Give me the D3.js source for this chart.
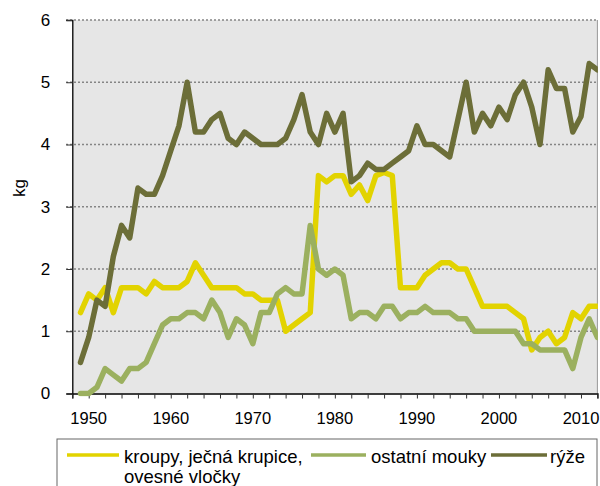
<!DOCTYPE html>
<html>
<head>
<meta charset="utf-8">
<script src="https://cdn.jsdelivr.net/npm/d3@7"></script>
<style>
  body { margin: 0; background: #fff; }
  svg { display: block; font-family: "Liberation Sans", Arial, sans-serif; }
</style>
</head>
<body>
<svg id="chart" width="600" height="486"></svg>
<script>
const years = d3.range(1949, 2013);
const kroupy = [1.3,1.6,1.5,1.7,1.3,1.7,1.7,1.7,1.6,1.8,1.7,1.7,1.7,1.8,2.1,1.9,1.7,1.7,1.7,1.7,1.6,1.6,1.5,1.5,1.5,1.0,1.1,1.2,1.3,3.5,3.4,3.5,3.5,3.2,3.35,3.1,3.5,3.55,3.5,1.7,1.7,1.7,1.9,2.0,2.1,2.1,2.0,2.0,1.7,1.4,1.4,1.4,1.4,1.3,1.2,0.7,0.9,1.0,0.8,0.9,1.3,1.2,1.4,1.4];
const ostatni = [0.0,0.0,0.1,0.4,0.3,0.2,0.4,0.4,0.5,0.8,1.1,1.2,1.2,1.3,1.3,1.2,1.5,1.3,0.9,1.2,1.1,0.8,1.3,1.3,1.6,1.7,1.6,1.6,2.7,2.0,1.9,2.0,1.9,1.2,1.3,1.3,1.2,1.4,1.4,1.2,1.3,1.3,1.4,1.3,1.3,1.3,1.2,1.2,1.0,1.0,1.0,1.0,1.0,1.0,0.8,0.8,0.7,0.7,0.7,0.7,0.4,0.9,1.2,0.9];
const ryze = [0.5,0.9,1.5,1.4,2.2,2.7,2.5,3.3,3.2,3.2,3.5,3.9,4.3,5.0,4.2,4.2,4.4,4.5,4.1,4.0,4.2,4.1,4.0,4.0,4.0,4.1,4.4,4.8,4.2,4.0,4.5,4.2,4.5,3.4,3.5,3.7,3.6,3.6,3.7,3.8,3.9,4.3,4.0,4.0,3.9,3.8,4.4,5.0,4.2,4.5,4.3,4.6,4.4,4.8,5.0,4.6,4.0,5.2,4.9,4.9,4.2,4.45,5.3,5.2];
const seriesNames = ["kroupy, ječná krupice,\novesné vločky", "ostatní mouky", "rýže"];
const seriesColors = ["#E2D300", "#9BB05F", "#6C6E38"];
const yTicks = [0,1,2,3,4,5,6];
const xTickYears = d3.range(1948, 2013, 2);
const xLabelYears = [1950,1960,1970,1980,1990,2000,2010];

const svg = d3.select("#chart");
const pL = 72.3, pR = 597.4, pT = 20, pB = 393.5;
const x = d3.scaleLinear().domain([1948, 2012]).range([pL, pR]);
const y = d3.scaleLinear().domain([0, 6]).range([pB, pT]);

svg.append("rect").attr("x", pL).attr("y", pT).attr("width", pR - pL).attr("height", pB - pT).attr("fill", "#E6E6E6");

// gridlines
svg.append("g").selectAll("line").data(yTicks.filter(d => d > 0)).join("line")
  .attr("x1", 66).attr("x2", pR).attr("y1", d => y(d)).attr("y2", d => y(d))
  .attr("stroke", "#858585").attr("stroke-width", 1.5).attr("stroke-dasharray", "2,2");

// right border
svg.append("line").attr("x1", pR).attr("x2", pR).attr("y1", pT).attr("y2", pB).attr("stroke", "#999").attr("stroke-width", 1);

// y axis
const yAxis = d3.axisLeft(y).tickValues(yTicks).tickSize(6).tickPadding(16).tickFormat(d3.format("d"));
const gy = svg.append("g").attr("transform", `translate(${pL},0)`).call(yAxis);
gy.select(".domain").attr("stroke", "#000").attr("stroke-width", 1.3);
gy.selectAll(".tick line").attr("stroke", "#333");
gy.selectAll(".tick text").attr("font-size", 17).attr("fill", "#000").attr("font-family", "Liberation Sans, Arial, sans-serif");

// x axis
const xAxis = d3.axisBottom(x).tickValues(xTickYears).tickSize(5).tickFormat("");
const gx = svg.append("g").attr("transform", `translate(0,${pB})`).call(xAxis);
gx.select(".domain").attr("stroke", "#000").attr("stroke-width", 1.3);
gx.selectAll(".tick line").attr("stroke", "#333");
svg.append("g").selectAll("text").data(xLabelYears).join("text")
  .attr("x", d => x(d)).attr("y", 424).attr("text-anchor", "middle")
  .attr("font-size", 16.5).attr("fill", "#000").text(d => d);

// y title
svg.append("text").attr("transform", "translate(25,188) rotate(-90)").attr("text-anchor", "middle")
  .attr("font-size", 17).attr("fill", "#000").text("kg");

// lines
const allSeries = [kroupy, ostatni, ryze];
const line = d3.line().x((d, i) => x(years[i])).y(d => y(d));
svg.append("clipPath").attr("id", "clip").append("rect")
  .attr("x", pL).attr("y", 0).attr("width", pR - pL + 0.5).attr("height", pB + 3);
svg.append("g").attr("clip-path", "url(#clip)").selectAll("path").data(allSeries).join("path")
  .attr("d", d => line(d)).attr("fill", "none")
  .attr("stroke", (d, i) => seriesColors[i]).attr("stroke-width", 5.5)
  .attr("stroke-linejoin", "round").attr("stroke-linecap", "round");

// legend
svg.append("rect").attr("x", 57).attr("y", 439).attr("width", 540).attr("height", 60)
  .attr("fill", "#fff").attr("stroke", "#666").attr("stroke-width", 1);
const legendPos = [{lx1: 67, lx2: 119, tx: 124}, {lx1: 311, lx2: 366, tx: 371}, {lx1: 491, lx2: 547, tx: 550}];
legendPos.forEach((p, i) => {
  svg.append("line").attr("x1", p.lx1).attr("x2", p.lx2).attr("y1", 455).attr("y2", 455)
    .attr("stroke", seriesColors[i]).attr("stroke-width", 3.5);
  const t = svg.append("text").attr("x", p.tx).attr("y", 462.5).attr("font-size", 18.5).attr("fill", "#000");
  seriesNames[i].split("\n").forEach((s, j) => {
    t.append("tspan").attr("x", p.tx).attr("dy", j === 0 ? 0 : 20).text(s);
  });
});
</script>
</body>
</html>
